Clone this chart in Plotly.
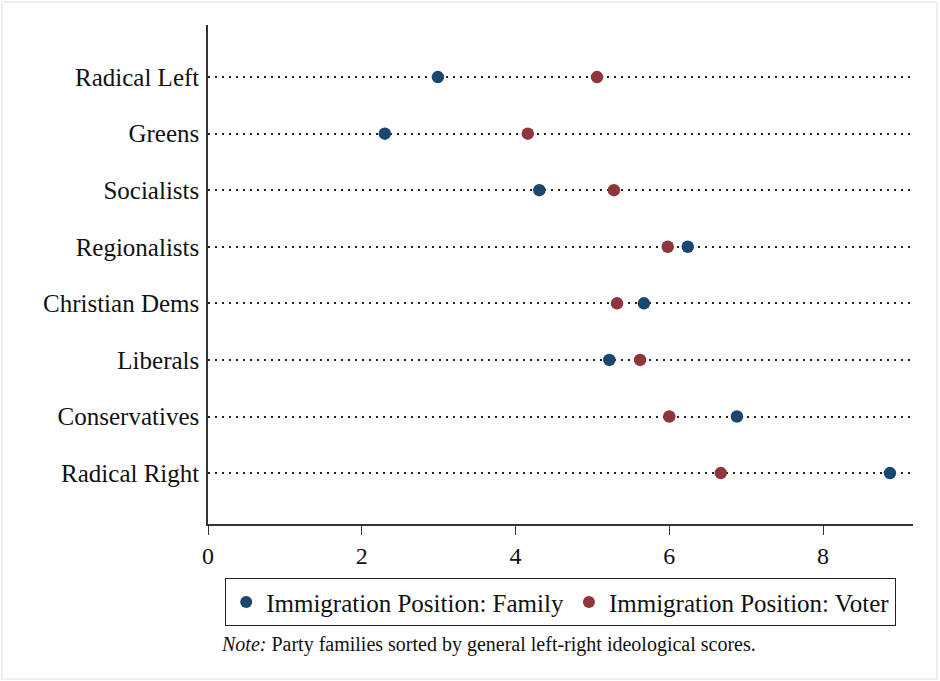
import plotly.graph_objects as go

# Party families (top to bottom) and immigration positions (0-10 scale)
families = ["Radical Left", "Greens", "Socialists", "Regionalists",
            "Christian Dems", "Liberals", "Conservatives", "Radical Right"]
family_position = [2.99, 2.30, 4.31, 6.24, 5.67, 5.22, 6.88, 8.87]
voter_position = [5.06, 4.16, 5.28, 5.98, 5.32, 5.62, 6.00, 6.67]

x_ticks = [0, 2, 4, 6, 8]
note_text = "<i>Note:</i> Party families sorted by general left-right ideological scores."

NAVY = "#1a476f"
MAROON = "#90353b"
FONT = "Liberation Serif"
TXT = "#111111"

W, H = 940, 681
L, R, T, B = 208, 27, 25, 157
pw, ph = W - L - R, H - T - B

fig = go.Figure()
fig.add_trace(go.Scatter(
    x=family_position, y=families, mode="markers",
    name="Immigration Position: Family",
    marker=dict(color=NAVY, size=12.5, line=dict(width=0)),
))
fig.add_trace(go.Scatter(
    x=voter_position, y=families, mode="markers",
    name="Immigration Position: Voter",
    marker=dict(color=MAROON, size=12.5, line=dict(width=0)),
))

fig.update_layout(
    width=W, height=H,
    margin=dict(l=L, r=R, t=T, b=B, pad=0),
    paper_bgcolor="white", plot_bgcolor="white",
    font=dict(family=FONT, size=25, color=TXT),
    showlegend=True,
    legend=dict(
        orientation="h", x=0.5, xanchor="center", y=(524 - 578) / ph, yanchor="top",
        bordercolor="#222222", borderwidth=1.2, bgcolor="white",
        font=dict(family=FONT, size=25, color=TXT),
        itemsizing="constant", tracegroupgap=0, itemwidth=30,
    ),
    xaxis=dict(
        range=[0, 9.17], tickvals=x_ticks, ticktext=[str(v) for v in x_ticks],
        showline=True, linecolor="#333333", linewidth=1.5,
        ticks="outside", ticklen=9, tickwidth=1.3, tickcolor="#333333",
        showgrid=False, zeroline=False,
        tickfont=dict(family=FONT, size=24, color=TXT),
    ),
    yaxis=dict(
        categoryorder="array", categoryarray=families,
        range=[7.9, -0.92], showline=True, linecolor="#333333", linewidth=1.5,
        ticks="", ticklabelstandoff=2,
        showgrid=True, gridcolor="#222222", gridwidth=1.6, griddash="2px,5px",
        zeroline=False,
        tickfont=dict(family=FONT, size=25, color=TXT),
    ),
)

# outer frame of the graph region
fig.add_shape(type="rect", xref="paper", yref="paper",
              x0=(2 - L) / pw, x1=(937 - L) / pw,
              y0=(524 - 679) / ph, y1=(524 - 2) / ph,
              line=dict(color="#e6ecee", width=1.5), layer="below")

fig.add_annotation(
    text=note_text, xref="paper", yref="paper",
    x=(219 - L) / pw, y=(524 - 631) / ph, xanchor="left", yanchor="top",
    showarrow=False, font=dict(family=FONT, size=20, color=TXT),
)

fig.write_html("out.html")
